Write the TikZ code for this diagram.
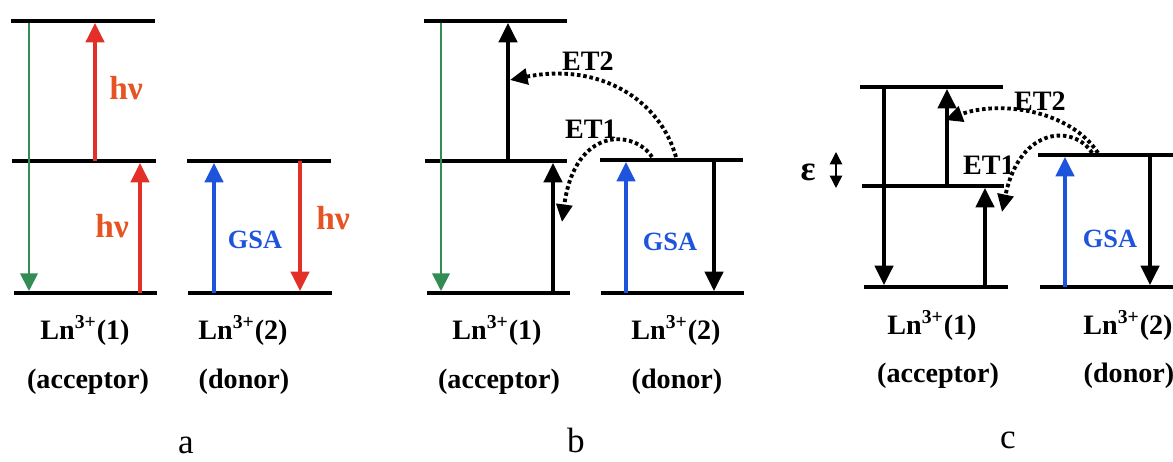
\documentclass[tikz,border=0pt]{standalone}
\usepackage{fontspec}
\setmainfont{Liberation Serif}
\usetikzlibrary{arrows.meta}

\definecolor{hvred}{RGB}{226,48,40}
\definecolor{hvtext}{RGB}{230,84,36}
\definecolor{emgreen}{RGB}{50,140,84}
\definecolor{gsablue}{RGB}{30,84,220}

\begin{document}
\begin{tikzpicture}[
    x=0.02cm, y=-0.02cm,
    level/.style={line width=2.4pt},
    trans/.style={line width=1.8pt, -{Triangle[width=10.5pt,length=11pt]}},
    emis/.style={line width=1.1pt, emgreen, -{Triangle[width=10pt,length=10pt]}},
    et/.style={line width=2.2pt, dash pattern=on 2pt off 1.6pt, -{Triangle[width=9pt,length=10pt]}},
    lbl/.style={font=\bfseries\fontsize{16}{18}\selectfont},
    hv/.style={font=\bfseries\fontsize{19}{21}\selectfont, text=hvtext},
    gsa/.style={font=\bfseries\fontsize{15}{17}\selectfont, text=gsablue},
    tag/.style={font=\fontsize{20}{22}\selectfont}
]
\useasboundingbox (0,0) rectangle (1173,462);

% panel a
\draw[level] (11,21) -- (155,21);
\draw[level] (12,161) -- (156,161);
\draw[level] (14,293) -- (157,293);
\draw[level] (187,161) -- (331,161);
\draw[level] (188,293) -- (332,293);

\coordinate (aG1) at (29,23);   \coordinate (aG2) at (29,291);
\coordinate (aR1) at (95,161);  \coordinate (aR2) at (95,23);
\coordinate (aR3) at (140,293); \coordinate (aR4) at (140,163);
\coordinate (aB1) at (214,293); \coordinate (aB2) at (214,163);
\coordinate (aR5) at (300,161); \coordinate (aR6) at (300,291);

\draw[emis] (aG1) -- (aG2);
\draw[trans, hvred] (aR1) -- (aR2);
\draw[trans, hvred] (aR3) -- (aR4);
\draw[trans, gsablue] (aB1) -- (aB2);
\draw[trans, hvred] (aR5) -- (aR6);

\node[hv] (ahv1) at (126,88) {hν};
\node[hv] (ahv2) at (112,226) {hν};
\node[hv] (ahv3) at (333,218) {hν};
\node[gsa] (agsa) at (255,240) {GSA};

\node[lbl] (aln1) at (85,330) {Ln\textsuperscript{3+}(1)};
\node[lbl] (aacc) at (88,382) {(acceptor)};
\node[lbl] (aln2) at (243,330) {Ln\textsuperscript{3+}(2)};
\node[lbl] (adon) at (244,382) {(donor)};
\node[tag] (atag) at (186,445) {a};

% panel b
\draw[level] (424,21) -- (567,21);
\draw[level] (425,161) -- (567,161);
\draw[level] (427,293) -- (570,293);
\draw[level] (600,160) -- (743,160);
\draw[level] (601,293) -- (744,293);

\coordinate (bG1) at (441,23);  \coordinate (bG2) at (441,291);
\coordinate (bK1) at (508,161); \coordinate (bK2) at (508,23);
\coordinate (bK3) at (553,293); \coordinate (bK4) at (553,163);
\coordinate (bB1) at (626,293); \coordinate (bB2) at (626,162);
\coordinate (bK5) at (714,160); \coordinate (bK6) at (714,291);
\coordinate (bE2s) at (676,157); \coordinate (bE2e) at (510,80);
\coordinate (bE1s) at (652,157); \coordinate (bE1e) at (562,222);

\draw[emis] (bG1) -- (bG2);
\draw[trans] (bK1) -- (bK2);
\draw[trans] (bK3) -- (bK4);
\draw[trans, gsablue] (bB1) -- (bB2);
\draw[trans] (bK5) -- (bK6);
\draw[et] (bE2s) .. controls (660,100) and (600,62) .. (bE2e);
\draw[et] (bE1s) .. controls (635,130) and (575,125) .. (bE1e);

\node[lbl] (bet2) at (588,61) {ET2};
\node[lbl] (bet1) at (591,129) {ET1};
\node[gsa] (bgsa) at (670,242) {GSA};

\node[lbl] (bln1) at (497,330) {Ln\textsuperscript{3+}(1)};
\node[lbl] (bacc) at (499,382) {(acceptor)};
\node[lbl] (bln2) at (676,330) {Ln\textsuperscript{3+}(2)};
\node[lbl] (bdon) at (677,382) {(donor)};
\node[tag] (btag) at (576,440) {b};

% panel c
\draw[level] (860,87) -- (1003,87);
\draw[level] (862,186) -- (1004,186);
\draw[level] (864,287) -- (1008,287);
\draw[level] (1038,155) -- (1173,155);
\draw[level] (1040,287) -- (1173,287);

\coordinate (cK1) at (884,88);   \coordinate (cK2) at (884,285);
\coordinate (cK3) at (947,186);  \coordinate (cK4) at (947,89);
\coordinate (cK5) at (985,287);  \coordinate (cK6) at (985,188);
\coordinate (cB1) at (1065,287); \coordinate (cB2) at (1065,157);
\coordinate (cK7) at (1150,155); \coordinate (cK8) at (1150,285);
\coordinate (cEp1) at (836,152); \coordinate (cEp2) at (836,188);
\coordinate (cE2s) at (1098,153); \coordinate (cE2e) at (945,120);
\coordinate (cE1s) at (1092,153); \coordinate (cE1e) at (1002,212);

\draw[trans] (cK1) -- (cK2);
\draw[trans] (cK3) -- (cK4);
\draw[trans] (cK5) -- (cK6);
\draw[trans, gsablue] (cB1) -- (cB2);
\draw[trans] (cK7) -- (cK8);
\draw[line width=0.8pt, {Triangle[width=7pt,length=7pt]}-{Triangle[width=7pt,length=7pt]}] (cEp1) -- (cEp2);
\draw[et] (cE2s) .. controls (1070,110) and (1000,100) .. (cE2e);
\draw[et] (cE1s) .. controls (1075,125) and (1020,125) .. (cE1e);

\node[lbl, font=\bfseries\fontsize{20}{22}\selectfont] (ceps) at (808,172) {ε};
\node[lbl] (cet2) at (1040,101) {ET2};
\node[lbl] (cet1) at (989,165) {ET1};
\node[gsa] (cgsa) at (1110,239) {GSA};

\node[lbl] (cln1) at (932,325) {Ln\textsuperscript{3+}(1)};
\node[lbl] (cacc) at (938,376) {(acceptor)};
\node[lbl] (cln2) at (1128,325) {Ln\textsuperscript{3+}(2)};
\node[lbl] (cdon) at (1129,376) {(donor)};
\node[tag] (ctag) at (1008,440) {c};

\end{tikzpicture}
\end{document}
